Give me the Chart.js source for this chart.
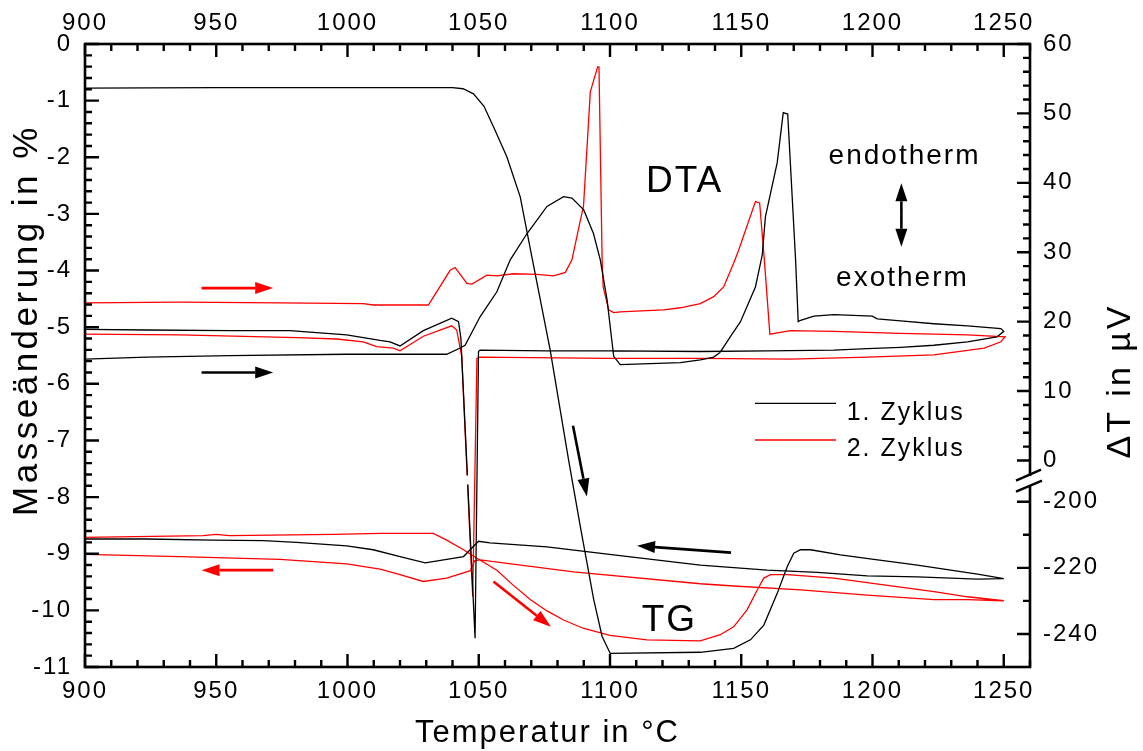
<!DOCTYPE html>
<html><head><meta charset="utf-8">
<script src="https://cdn.jsdelivr.net/npm/chart.js@4.4.1/dist/chart.umd.min.js"></script>
<style>html,body{margin:0;padding:0;background:#fff}#wrap{width:1143px;height:751px;position:relative}</style>
</head><body><div id="wrap"><canvas id="c"></canvas></div>
<script>
// ---------------- data ----------------
const seriesNames = ['1. Zyklus', '2. Zyklus'];
const xTickValues = [900, 950, 1000, 1050, 1100, 1150, 1200, 1250];
const yTickValues = [0, -1, -2, -3, -4, -5, -6, -7, -8, -9, -10, -11];
const rightTickValues = [60, 50, 40, 30, 20, 10, 0, -200, -220, -240];

// TG (Masseänderung in %), 1. Zyklus
const tg1Heat_T = [900, 950, 1000, 1040, 1044, 1048, 1052, 1056, 1060.7, 1065.8, 1070.2, 1077.2, 1084.2, 1088.7, 1093.8, 1097.0, 1100.1, 1134.4, 1147.1, 1153.5, 1158.6, 1163.7, 1167.5, 1170.0, 1172.6, 1176.4, 1187.8, 1200.5, 1217.1, 1229.8, 1240.0, 1250.0];
const tg1Heat_V = [-0.78, -0.77, -0.77, -0.77, -0.79, -0.88, -1.10, -1.50, -1.99, -2.70, -3.75, -5.40, -7.34, -8.52, -9.81, -10.46, -10.76, -10.74, -10.67, -10.52, -10.26, -9.70, -9.23, -8.99, -8.93, -8.93, -9.02, -9.10, -9.20, -9.29, -9.36, -9.44];
const tg1Cool_T = [1250, 1240, 1217.1, 1198, 1179, 1159.9, 1134.4, 1101.4, 1076, 1054.3, 1049.9, 1044.2, 1029.6, 1020, 1009.8, 999.7, 980.6, 967.9, 948.8, 923.4, 900];
const tg1Cool_V = [-9.44, -9.45, -9.41, -9.39, -9.33, -9.29, -9.20, -9.02, -8.88, -8.81, -8.78, -9.05, -9.16, -9.05, -8.93, -8.86, -8.80, -8.77, -8.76, -8.74, -8.74];

// TG (Masseänderung in %), 2. Zyklus
const tg2Heat_T = [900, 945, 950, 955, 994.6, 1012.4, 1032.7, 1037.8, 1044.2, 1049.3, 1056.9, 1063, 1069.6, 1076, 1082.3, 1090, 1100, 1114.1, 1134.4, 1142, 1147.1, 1152.2, 1156.1, 1158.6, 1161.1, 1167.5, 1185.3, 1204.3, 1223.4, 1236.2, 1250];
const tg2Heat_V = [-8.71, -8.68, -8.66, -8.68, -8.66, -8.64, -8.64, -8.76, -8.93, -9.08, -9.29, -9.55, -9.81, -10.01, -10.17, -10.32, -10.44, -10.52, -10.54, -10.43, -10.29, -9.99, -9.64, -9.43, -9.37, -9.37, -9.43, -9.55, -9.67, -9.76, -9.83];
const tg2Cool_T = [1250, 1236.2, 1223.4, 1198, 1172.6, 1147.1, 1134.4, 1086.1, 1050.5, 1048.5, 1046.8, 1037.8, 1028.9, 1020, 1012.4, 999.7, 974.3, 936.2, 900];
const tg2Cool_V = [-9.83, -9.81, -9.81, -9.73, -9.64, -9.57, -9.53, -9.32, -9.11, -9.12, -9.30, -9.43, -9.49, -9.37, -9.27, -9.18, -9.10, -9.05, -9.01];

// DTA (ΔT in µV), 1. Zyklus
const dta1Heat_T = [900, 923.4, 955.2, 999.7, 1020, 1037.8, 1042.9, 1044.8, 1050.5, 1056.9, 1062, 1068.4, 1076, 1082.3, 1085.5, 1090, 1093.7, 1096.3, 1098.9, 1101.4, 1103.9, 1126.8, 1134.4, 1139.5, 1142, 1145.8, 1149.7, 1155.4, 1158, 1159.2, 1163.7, 1166, 1167.7, 1170.7, 1171.7, 1172.6, 1177.7, 1185.3, 1199.9, 1201.8, 1210.7, 1223.4, 1236.2, 1248.9, 1250];
const dta1Heat_V = [14.6, 14.9, 15.1, 15.3, 15.3, 15.3, 16.2, 16.6, 20.7, 24.3, 28.9, 32.7, 36.6, 38.0, 37.8, 36.1, 32.7, 28.9, 23.1, 15.0, 13.8, 14.1, 14.5, 14.9, 15.6, 17.8, 20.0, 25.0, 29.6, 35.1, 42.9, 50.1, 49.9, 28.9, 20.0, 20.2, 20.8, 21.0, 20.8, 20.4, 20.1, 19.7, 19.4, 19.0, 18.6];
const dta1Cool_T = [1250, 1247.4, 1236.2, 1223.4, 1210.7, 1198, 1185.3, 1159.9, 1134.4, 1101.4, 1076, 1050.5, 1049.9, 1048.6, 1043.2, 1042.3, 1039.7, 1028.9, 1020, 1016.2, 1012.4, 999.7, 978.1, 955.2, 923.4, 900];
const dta1Cool_V = [18.6, 17.8, 17.1, 16.6, 16.3, 16.1, 15.9, 15.8, 15.7, 15.8, 15.8, 15.9, 15.7, -241.3, 17.6, 20.0, 20.5, 18.7, 16.5, 17.1, 17.3, 18.1, 18.7, 18.7, 18.8, 18.9];

// DTA (ΔT in µV), 2. Zyklus
const dta2Heat_T = [900, 936.2, 974.3, 1006, 1009.8, 1030.8, 1039.1, 1041, 1045.5, 1047.4, 1053.1, 1056.9, 1063.2, 1072.2, 1078.5, 1083, 1085.5, 1088.7, 1089.9, 1092.5, 1095.3, 1095.8, 1097.0, 1097.4, 1099.5, 1101.4, 1103.9, 1114.1, 1120.4, 1126.8, 1134.4, 1137, 1139.5, 1143.3, 1147.1, 1149, 1155.4, 1157, 1158.8, 1160.9, 1168.8, 1185.3, 1210.7, 1236.2, 1250.5];
const dta2Heat_V = [22.7, 22.8, 22.7, 22.6, 22.4, 22.4, 27.4, 27.8, 25.5, 25.4, 26.7, 26.6, 26.9, 26.8, 26.6, 27.1, 28.9, 34.6, 36.6, 53.1, 56.7, 56.7, 28.9, 25.0, 21.7, 21.3, 21.4, 21.6, 21.7, 22.0, 22.6, 23.1, 23.6, 25.0, 28.4, 30.3, 37.3, 37.1, 28.9, 18.2, 18.7, 18.6, 18.3, 18.1, 17.8];
const dta2Cool_T = [1250.5, 1248.9, 1242.6, 1223.4, 1198, 1168.8, 1134.4, 1100, 1050.5, 1049.3, 1047.7, 1043.5, 1041.6, 1039.7, 1028.9, 1020, 1017.5, 1011.1, 1006, 995.9, 980.6, 936.2, 900];
const dta2Cool_V = [17.8, 17.1, 16.2, 15.2, 14.9, 14.6, 14.7, 14.7, 14.9, 14.7, -228.7, 15.0, 18.8, 19.4, 17.9, 15.8, 16.2, 16.4, 17.1, 17.5, 17.7, 18.1, 18.2];

// ---------------- styling / layout ----------------
const COLORS = ['#000000', '#ff0000'];
const FONT = '"Liberation Sans", Arial, Helvetica, sans-serif';
const LS = '2px';
const AREA = {left: 85, right: 1030, top: 44, bottom: 667};
// broken right axis: upper segment 0..60 µV, lower segment -250..-200 µV
const BRK = {topMax: 60, topMin: 0, topFrac: 0.6685, botMax: -200, botMin: -250, botFrac: 0.7347};

class BrokenScale extends Chart.LinearScale {
  determineDataLimits() { this.min = BRK.botMin; this.max = BRK.topMax; }
  buildTicks() { return rightTickValues.map(v => ({value: v})); }
  _frac(v) {
    if (v >= BRK.topMin) return (BRK.topMax - v) / (BRK.topMax - BRK.topMin) * BRK.topFrac;
    if (v <= BRK.botMax) return BRK.botFrac + (BRK.botMax - v) / (BRK.botMax - BRK.botMin) * (1 - BRK.botFrac);
    return BRK.topFrac + (BRK.topMin - v) / (BRK.topMin - BRK.botMax) * (BRK.botFrac - BRK.topFrac);
  }
  getPixelForValue(v) { return this.top + this._frac(v) * (this.bottom - this.top); }
  getValueForPixel(p) {
    const f = (p - this.top) / (this.bottom - this.top);
    if (f <= BRK.topFrac) return BRK.topMax - f / BRK.topFrac * (BRK.topMax - BRK.topMin);
    if (f >= BRK.botFrac) return BRK.botMax - (f - BRK.botFrac) / (1 - BRK.botFrac) * (BRK.botMax - BRK.botMin);
    return BRK.topMin - (f - BRK.topFrac) / (BRK.botFrac - BRK.topFrac) * (BRK.topMin - BRK.botMax);
  }
}
BrokenScale.id = 'broken';
BrokenScale.defaults = {};
Chart.register(BrokenScale);

const zip = (T, V) => T.map((t, i) => ({x: t, y: V[i]}));
function ds(label, T, V, color, axis) {
  return {label, data: zip(T, V), borderColor: color, borderWidth: 1.3, pointRadius: 0,
    fill: false, tension: 0, yAxisID: axis, xAxisID: 'x'};
}
const datasets = [
  ds(seriesNames[0] + ' TG', tg1Heat_T.concat(tg1Cool_T), tg1Heat_V.concat(tg1Cool_V), COLORS[0], 'y'),
  ds(seriesNames[0] + ' DTA', dta1Heat_T.concat(dta1Cool_T), dta1Heat_V.concat(dta1Cool_V), COLORS[0], 'y2'),
  ds(seriesNames[1] + ' TG', tg2Heat_T.concat(tg2Cool_T), tg2Heat_V.concat(tg2Cool_V), COLORS[1], 'y'),
  ds(seriesNames[1] + ' DTA', dta2Heat_T.concat(dta2Cool_T), dta2Heat_V.concat(dta2Cool_V), COLORS[1], 'y2')
];

const tickFont = {family: FONT, size: 24};
const noGrid = {display: false, drawTicks: false};
function xAxis(pos, h, pad) {
  return {type: 'linear', position: pos, min: 900, max: 1260, grid: noGrid, border: {display: false},
    afterBuildTicks: s => { s.ticks = xTickValues.map(v => ({value: v})); },
    afterFit: s => { s.height = h; },
    ticks: {font: tickFont, color: '#000', padding: pad, autoSkip: false, maxRotation: 0, callback: v => String(v)}};
}

const annotations = {
  arrows: [
    {from: [944.4, -4.31], to: [971.7, -4.31], color: COLORS[1]},
    {from: [944.4, -5.80], to: [971.7, -5.80], color: COLORS[0]},
    {from: [971.7, -9.29], to: [944.4, -9.29], color: COLORS[1]},
    {from: [1085.9, -6.74], to: [1091.2, -7.99], color: COLORS[0]},
    {from: [1146.1, -8.98], to: [1110.3, -8.86], color: COLORS[0]},
    {from: [1055.6, -9.49], to: [1077.5, -10.29], color: COLORS[1]}
  ],
  doubleArrow: {x: 1211, y1: -2.46, y2: -3.58},
  texts: [
    {t: 'DTA', x: 1128.4, y: -2.61, size: 37},
    {t: 'TG', x: 1122.6, y: -10.36, size: 37},
    {t: 'endotherm', x: 1212.2, y: -2.12, size: 28},
    {t: 'exotherm', x: 1211.4, y: -4.27, size: 28}
  ],
  breakGap: {T1: 1044.0, T2: 1047.6}
};

const decor = {
  id: 'decor',
  beforeDraw(chart) { chart.ctx.letterSpacing = LS; },
  afterDraw(chart) {
    const ctx = chart.ctx, xs = chart.scales.x, ys = chart.scales.y, y2 = chart.scales.y2;
    const a = chart.chartArea;
    const P = (T, v) => [xs.getPixelForValue(T), ys.getPixelForValue(v)];
    ctx.save();
    ctx.letterSpacing = LS;
    // small white gap in the descending DTA spikes at the axis break level
    const z0 = y2.getPixelForValue(0), z200 = y2.getPixelForValue(-200);
    const gx1 = xs.getPixelForValue(annotations.breakGap.T1), gx2 = xs.getPixelForValue(annotations.breakGap.T2);
    ctx.fillStyle = '#fff';
    ctx.fillRect(gx1, z0 + 15, gx2 - gx1, 9);
    ctx.strokeStyle = '#000'; ctx.fillStyle = '#000';
    ctx.lineWidth = 2.6; ctx.lineCap = 'butt';
    ctx.strokeRect(a.left, a.top, a.right - a.left, a.bottom - a.top);
    // ticks
    ctx.lineWidth = 2.4;
    ctx.beginPath();
    for (let T = 900; T <= 1260; T += 10) {
      const px = xs.getPixelForValue(T), len = T % 50 === 0 ? 13 : 7;
      ctx.moveTo(px, a.bottom); ctx.lineTo(px, a.bottom - len);
      ctx.moveTo(px, a.top); ctx.lineTo(px, a.top + len);
    }
    for (let k = 0; k <= 55; k++) {
      const py = ys.getPixelForValue(-11 + k * 0.2), len = k % 5 === 0 ? 14 : 7;
      ctx.moveTo(a.left, py); ctx.lineTo(a.left + len, py);
    }
    for (let u = 0; u <= 60; u += 2) {
      const py = y2.getPixelForValue(u), len = u % 10 === 0 ? 13 : 7;
      ctx.moveTo(a.right, py); ctx.lineTo(a.right - len, py);
    }
    for (let u = -240; u <= -200; u += 10) {
      const py = y2.getPixelForValue(u), len = u % 20 === 0 ? 13 : 7;
      ctx.moveTo(a.right, py); ctx.lineTo(a.right - len, py);
    }
    ctx.stroke();
    // axis break
    const bm = (z0 + z200) / 2;
    ctx.fillStyle = '#fff';
    ctx.fillRect(a.right - 3, bm - 5, 6, 10);
    ctx.beginPath();
    ctx.moveTo(a.right - 14, bm - 0.5); ctx.lineTo(a.right + 11, bm - 11.5);
    ctx.moveTo(a.right - 14, bm + 10.5); ctx.lineTo(a.right + 12, bm - 0.5);
    ctx.lineWidth = 2.4; ctx.stroke();
    // arrows
    function arrow(x1, y1, x2, y2p, color) {
      const ang = Math.atan2(y2p - y1, x2 - x1), hl = 18, hw = 6;
      const bx = x2 - hl * Math.cos(ang), by = y2p - hl * Math.sin(ang);
      ctx.strokeStyle = color; ctx.fillStyle = color; ctx.lineWidth = 2.6;
      ctx.beginPath(); ctx.moveTo(x1, y1); ctx.lineTo(bx, by); ctx.stroke();
      ctx.beginPath(); ctx.moveTo(x2, y2p);
      ctx.lineTo(bx + hw * Math.sin(ang), by - hw * Math.cos(ang));
      ctx.lineTo(bx - hw * Math.sin(ang), by + hw * Math.cos(ang));
      ctx.closePath(); ctx.fill();
    }
    annotations.arrows.forEach(ar => {
      const p1 = P(ar.from[0], ar.from[1]), p2 = P(ar.to[0], ar.to[1]);
      arrow(p1[0], p1[1], p2[0], p2[1], ar.color);
    });
    const d = annotations.doubleArrow;
    const dp1 = P(d.x, d.y1), dp2 = P(d.x, d.y2);
    const mid = (dp1[1] + dp2[1]) / 2;
    arrow(dp1[0], mid, dp1[0], dp1[1], '#000');
    arrow(dp1[0], mid, dp2[0], dp2[1], '#000');
    // texts
    ctx.fillStyle = '#000';
    ctx.textAlign = 'center'; ctx.textBaseline = 'alphabetic';
    annotations.texts.forEach(t => {
      const p = P(t.x, t.y);
      ctx.font = t.size + 'px ' + FONT;
      ctx.fillText(t.t, p[0], p[1]);
    });
    // legend
    ctx.font = '25px ' + FONT; ctx.textAlign = 'left';
    const leg = [[403.3, 420], [440, 456]];
    seriesNames.forEach((n, i) => {
      ctx.strokeStyle = COLORS[i]; ctx.lineWidth = 1.3;
      ctx.beginPath(); ctx.moveTo(755, leg[i][0]); ctx.lineTo(836, leg[i][0]); ctx.stroke();
      ctx.fillStyle = '#000';
      ctx.fillText(n, 846.7, leg[i][1]);
    });
    // axis titles
    ctx.textBaseline = 'middle'; ctx.textAlign = 'center';
    ctx.font = '31px ' + FONT;
    ctx.fillText('Temperatur in °C', 547.5, 733);
    ctx.font = '35px ' + FONT; ctx.letterSpacing = '3.5px';
    ctx.save(); ctx.translate(27, 320); ctx.rotate(-Math.PI / 2);
    ctx.fillText('Masseänderung in %', 0, 0); ctx.restore();
    ctx.font = '34px ' + FONT; ctx.letterSpacing = '3px';
    ctx.save(); ctx.translate(1121, 381); ctx.rotate(-Math.PI / 2);
    ctx.fillText('ΔT in µV', 0, 0); ctx.restore();
    ctx.restore();
  }
};

new Chart(document.getElementById('c'), {
  type: 'line',
  data: {datasets},
  options: {
    responsive: true, maintainAspectRatio: false, animation: false, events: [],
    layout: {padding: 0},
    plugins: {legend: {display: false}, tooltip: {enabled: false}, title: {display: false}},
    scales: {
      x: xAxis('bottom', 751 - AREA.bottom, 10),
      x2: xAxis('top', AREA.top, 6),
      y: {type: 'linear', position: 'left', min: -11, max: 0, grid: noGrid, border: {display: false},
        afterBuildTicks: s => { s.ticks = yTickValues.map(v => ({value: v})); },
        afterFit: s => { s.width = AREA.left; },
        ticks: {font: tickFont, color: '#000', padding: 13, autoSkip: false, callback: v => String(v)}},
      y2: {type: 'broken', position: 'right', grid: noGrid, border: {display: false},
        afterFit: s => { s.width = 1143 - AREA.right; },
        ticks: {font: tickFont, color: '#000', padding: 13, autoSkip: false, callback: v => String(v)}}
    }
  },
  plugins: [decor]
});
</script>
</body></html>
